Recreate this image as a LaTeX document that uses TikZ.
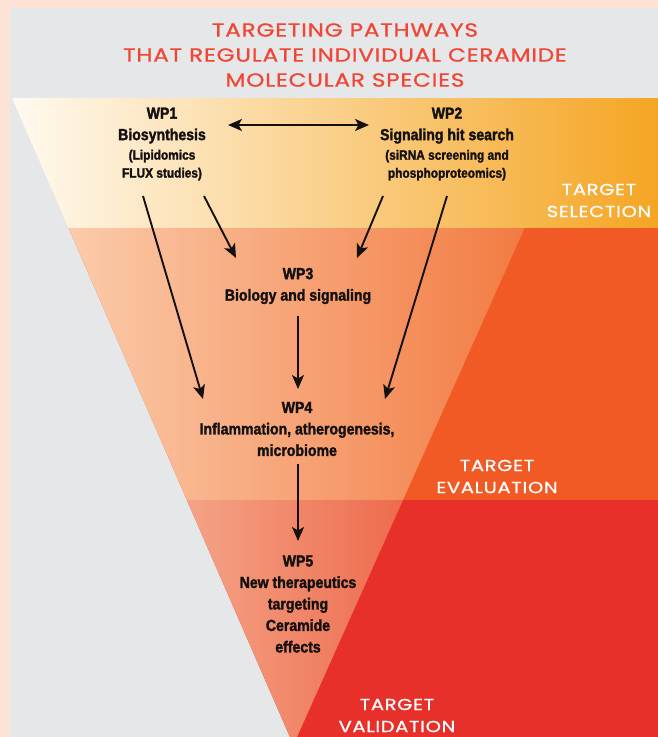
\documentclass[tikz,border=0pt]{standalone}
\usepackage{fontspec}
\setmainfont{Liberation Sans}[FakeStretch=0.88, BoldFeatures={FakeBold=1.8}]
\newfontfamily\decofont{Poppins}[FakeStretch=1.22, LetterSpace=4, FakeBold=0.9]
\usetikzlibrary{arrows.meta,calc}

\definecolor{peach}{HTML}{FCE3D6}
\definecolor{panelgray}{HTML}{E6E7E8}
\definecolor{bOneL}{HTML}{FFFAF0}
\definecolor{bOneM}{HTML}{FAD394}
\definecolor{bOneR}{HTML}{F5A523}
\definecolor{bTwoOut}{HTML}{F15A24}
\definecolor{bTwoL}{HTML}{FBCBAA}
\definecolor{bTwoR}{HTML}{F27B42}
\definecolor{bThreeOut}{HTML}{E8302A}
\definecolor{bThreeL}{HTML}{F4A386}
\definecolor{bThreeR}{HTML}{EE6B4D}
\definecolor{titlered}{HTML}{EF4636}
\definecolor{txtblack}{HTML}{141010}

\newcommand\wpfont{\fontsize{16}{21.5}\selectfont\bfseries}
\newcommand\wpsub{\fontsize{13.5}{18}\selectfont}
\newcommand\stagefont{\decofont\fontsize{16}{22}\selectfont}
\newcommand\titlefont{\decofont\fontsize{19}{25}\selectfont}

\tikzset{
  wptext/.style={font=\wpfont, align=center, inner sep=0pt, text=txtblack},
  arr/.style={line width=1.9pt, draw=txtblack, -{Stealth[length=14pt,width=12pt,inset=3.5pt]}},
  darr/.style={line width=1.9pt, draw=txtblack, {Stealth[length=14pt,width=12pt,inset=3.5pt]}-{Stealth[length=14pt,width=12pt,inset=3.5pt]}},
  stagelabel/.style={font=\stagefont, text=white, align=center, inner sep=0pt},
  titletext/.style={font=\titlefont, text=titlered, align=center, inner sep=0pt},
}

\begin{document}
\begin{tikzpicture}[x=1pt,y=-1pt]
\useasboundingbox (0,0) rectangle (658,737);
% background
\fill[peach] (0,0) rectangle (658,737);
\fill[panelgray] (10,8) rectangle (658,737);
% band 1: target selection
\shade[left color=bOneL, middle color=bOneM, right color=bOneR]
  (12,98) -- (658,98) -- (658,228) -- (68.6,228) -- cycle;
% band 2: target evaluation
\fill[bTwoOut] (68.6,228) -- (658,228) -- (658,500) -- (186.9,500) -- cycle;
\shade[left color=bTwoL, right color=bTwoR]
  (68.6,228) -- (524.6,228) -- (403,500) -- (186.9,500) -- cycle;
% band 3: target validation
\fill[bThreeOut] (186.9,500) -- (658,500) -- (658,737) -- (290,737) -- cycle;
\shade[left color=bThreeL, right color=bThreeR]
  (186.9,500) -- (403,500) -- (297,737) -- (290,737) -- cycle;

% title
\node[titletext] (title) at (345,55) {TARGETING PATHWAYS\\THAT REGULATE INDIVIDUAL CERAMIDE\\MOLECULAR SPECIES};

% stage labels
\node[stagelabel] (sel) at (599,200.5) {TARGET\\SELECTION};
\node[stagelabel] (eva) at (497,476.5) {TARGET\\EVALUATION};
\node[stagelabel] (val) at (397,715.5) {TARGET\\VALIDATION};

% work packages
\node[wptext] (wp1) at (162,144) {WP1\\Biosynthesis\\[-2pt]{\wpsub (Lipidomics}\\[-3.5pt]{\wpsub FLUX studies)}};
\node[wptext] (wp2) at (447,144) {WP2\\Signaling hit search\\[-2pt]{\wpsub (siRNA screening and}\\[-3.5pt]{\wpsub phosphoproteomics)}};
\node[wptext] (wp3) at (298,286) {WP3\\Biology and signaling};
\node[wptext] (wp4) at (297,429) {WP4\\Inflammation, atherogenesis,\\microbiome};
\node[wptext] (wp5) at (298,604) {WP5\\New therapeutics\\targeting\\Ceramide\\effects};

% connectors
\draw[darr] ($(wp1)+(66,-19)$) -- ($(wp2)+(-78,-19)$);
\draw[arr] ($(wp1)+(-19,52)$) -- ($(wp4)+(-94,-30)$);
\draw[arr] ($(wp1)+(42,52)$) -- ($(wp3)+(-62,-28)$);
\draw[arr] ($(wp2)+(-64,52)$) -- ($(wp3)+(59,-28)$);
\draw[arr] ($(wp2)+(0,52)$) -- ($(wp4)+(88,-30)$);
\draw[arr] ($(wp3)+(0,30)$) -- ($(wp4)+(1,-40)$);
\draw[arr] ($(wp4)+(1,35)$) -- ($(wp5)+(0,-63)$);
\end{tikzpicture}
\end{document}
